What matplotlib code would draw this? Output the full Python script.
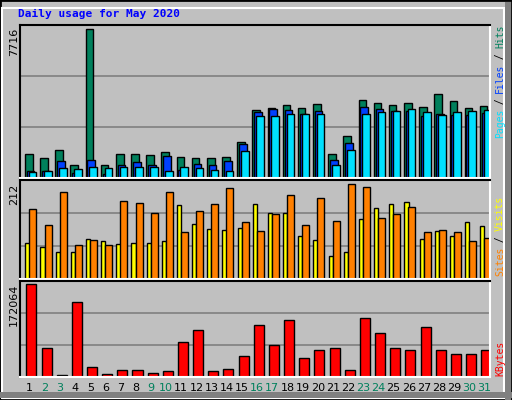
import matplotlib
matplotlib.use('Agg')
import matplotlib.pyplot as plt
from matplotlib.patches import Rectangle

days = list(range(1, 32))
weekend = [2, 3, 9, 10, 16, 17, 23, 24, 30, 31]

hits = [1225, 1015, 1435, 700, 7716, 650, 1225, 1225, 1170, 1330, 1070, 1015, 1015, 1070, 1855, 3535,
        3640, 3800, 3640, 3850, 1225, 2170, 4060, 3900, 3800, 3900, 3690, 4375, 4010, 3640, 3745]
files = [385, 385, 857, 280, 910, 230, 700, 805, 650, 1120, 440, 750, 700, 857, 1750, 3430,
         3590, 3535, 3325, 3480, 910, 1800, 3690, 3590, 3480, 3480, 3220, 3325, 3270, 3270, 3380]
pages = [315, 385, 540, 490, 595, 540, 595, 595, 595, 385, 595, 540, 440, 385, 1380, 3220,
         3220, 3325, 3325, 3325, 700, 1435, 3325, 3430, 3480, 3590, 3430, 3270, 3430, 3480, 3535]
sites = [81, 71, 60, 60, 90, 85, 78, 81, 81, 85, 166, 124, 113, 111, 115, 168,
         147, 147, 97, 88, 51, 60, 134, 159, 168, 173, 90, 108, 97, 127, 118]
visits = [157, 120, 196, 76, 88, 76, 175, 171, 147, 196, 106, 152, 168, 205, 127, 108,
          145, 189, 122, 182, 131, 212, 207, 136, 145, 161, 106, 111, 106, 85, 92]
kbytes = [172064, 53380, 4400, 140030, 19470, 6280, 13815, 13815, 8160, 11930, 64680, 87290, 11930,
          15700, 38300, 96710, 59030, 106130, 34540, 49610, 53380, 13815, 109900, 81640, 53380,
          49610, 92940, 49610, 42075, 42075, 49610]

C_HITS, C_FILES, C_PAGES = '#00805c', '#0040ff', '#00e0ff'
C_SITES, C_VISITS, C_KB = '#ffff00', '#ff8000', '#ff0000'
W, H = 512, 400
mono = 'DejaVu Sans Mono'

fig = plt.figure(figsize=(W / 100, H / 100), dpi=100, facecolor='#c0c0c0')

# 3D-ish outer border
fig.patches.append(Rectangle((0, 0), 1, 1, transform=fig.transFigure, fill=False,
                             edgecolor='black', lw=2))
fig.patches.append(Rectangle((2 / W, 2 / H), 1 - 10 / W, 1 - 10 / H, transform=fig.transFigure,
                             fill=False, edgecolor='white', lw=1.5))
fig.patches.append(Rectangle((W - 8) / W, 0, 8 / W, 1, transform=fig.transFigure,
                             facecolor='#808080', edgecolor='none')) if False else None
fig.patches.append(Rectangle(((W - 7) / W, 0), 6 / W, 1 - 2 / H, transform=fig.transFigure,
                             facecolor='#808080', edgecolor='none'))
fig.patches.append(Rectangle((0, 2 / H), 1, 6 / H, transform=fig.transFigure,
                             facecolor='#808080', edgecolor='none'))


def make_ax(top, bottom):
    ax = fig.add_axes([20 / W, 1 - bottom / H, 470 / W, (bottom - top) / H])
    ax.set_facecolor('#c0c0c0')
    ax.set_xlim(0, 31)
    ax.set_xticks([])
    ax.set_yticks([])
    for s in ax.spines.values():
        s.set_linewidth(1.5)
    ax.spines['right'].set_color('white')
    ax.spines['bottom'].set_color('white')
    return ax


def grid(ax, top):
    for f in (1 / 3, 2 / 3):
        ax.axhline(top * f, color='#808080', lw=1.2, zorder=0)


bar_kw = dict(edgecolor='black', linewidth=1, align='edge', zorder=2)

# Hits / Files / Pages
ax1 = make_ax(25, 178)
top1 = 7941
ax1.set_ylim(0, top1)
grid(ax1, top1)
x = [d - 1 for d in days]
ax1.bar([v + 0.33 for v in x], hits, width=0.5, color=C_HITS, **bar_kw)
ax1.bar([v + 0.45 for v in x], files, width=0.5, color=C_FILES, **bar_kw)
ax1.bar([v + 0.58 for v in x], pages, width=0.5, color=C_PAGES, **bar_kw)

# Sites / Visits
ax2 = make_ax(180, 279)
top2 = 222
ax2.set_ylim(0, top2)
grid(ax2, top2)
ax2.bar([v + 0.35 for v in x], sites, width=0.28, color=C_SITES, **bar_kw)
ax2.bar([v + 0.62 for v in x], visits, width=0.46, color=C_VISITS, **bar_kw)

# KBytes
ax3 = make_ax(281, 377)
top3 = 178340
ax3.set_ylim(0, top3)
grid(ax3, top3)
ax3.bar([v + 0.42 for v in x], kbytes, width=0.66, color=C_KB, **bar_kw)

for d in days:
    ax3.text(d - 0.36, -0.06, str(d), transform=ax3.get_xaxis_transform(), ha='center', va='top',
             fontsize=8, family='DejaVu Sans', color=C_HITS if d in weekend else 'black')

fig.text(18 / W, 1 - 14 / H, 'Daily usage for May 2020', color='#0000ff', fontsize=8,
         family=mono, fontweight='bold', va='center')

# left max labels
for lab, ytop in (('7716', 28), ('212', 184), ('172064', 284)):
    fig.text(9 / W, 1 - ytop / H, lab, rotation=90, ha='left', va='top', fontsize=8,
             family='DejaVu Sans')


def side_label(parts, ybottom):
    y = ybottom
    for txt, col in parts:
        t = fig.text(495 / W, 1 - y / H, txt, rotation=90, ha='left', va='bottom',
                     fontsize=7, family=mono, color=col)
        y -= len(txt) * 5.6


side_label([('Pages', C_PAGES), (' / ', '#000000'), ('Files', C_FILES), (' / ', '#000000'),
            ('Hits', C_HITS)], 138)
side_label([('Sites', C_VISITS), (' / ', '#000000'), ('Visits', C_SITES)], 276)
side_label([('KBytes', C_KB)], 376)

fig.savefig('out.png', dpi=100, facecolor=fig.get_facecolor())
